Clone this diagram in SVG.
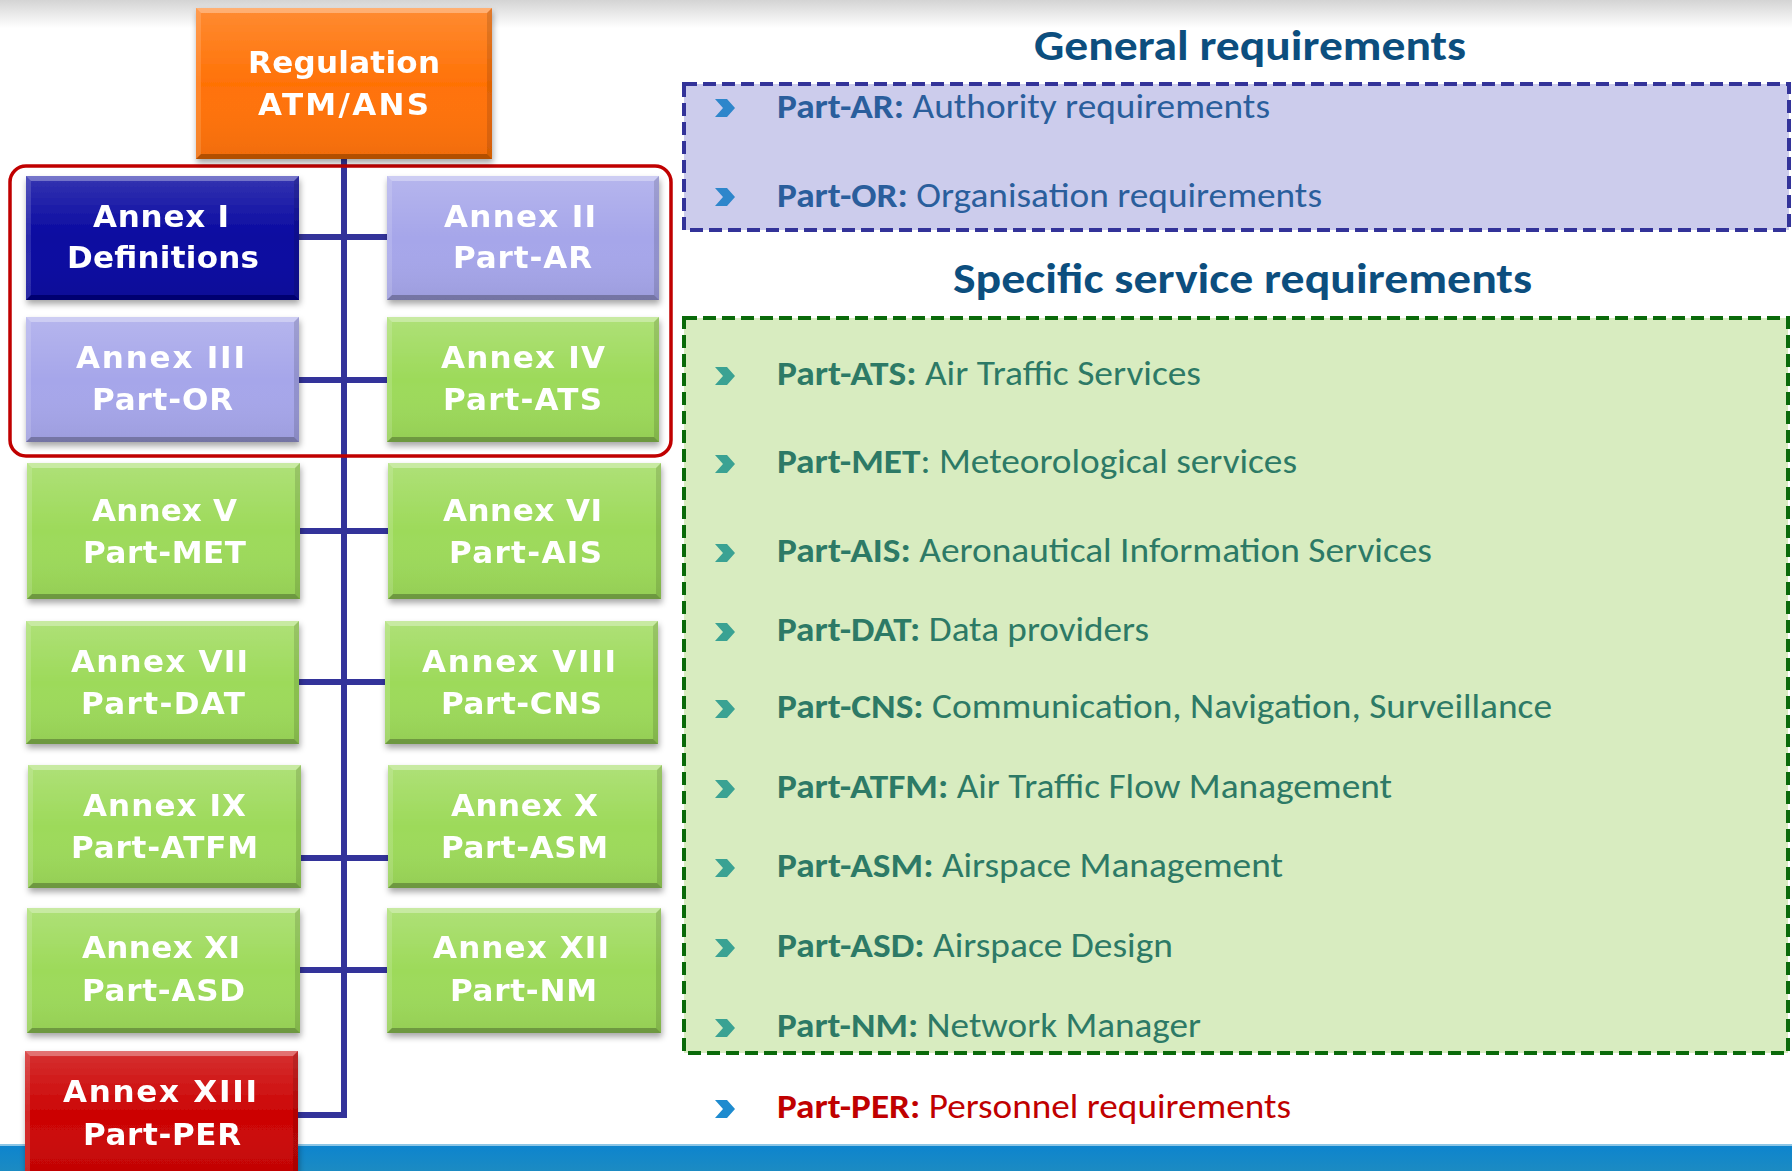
<svg xmlns="http://www.w3.org/2000/svg" width="1792" height="1171" viewBox="0 0 1792 1171">
  <defs>
    <linearGradient id="topHaze" x1="0" y1="0" x2="0" y2="1">
      <stop offset="0" stop-color="#d4d4d4"/>
      <stop offset="1" stop-color="#ffffff"/>
    </linearGradient>
    <linearGradient id="barFill" x1="0" y1="0" x2="0" y2="1">
      <stop offset="0" stop-color="#0c84cf"/>
      <stop offset="1" stop-color="#1c8bc2"/>
    </linearGradient>
    <linearGradient id="faceSheen" x1="0" y1="0" x2="0" y2="1">
      <stop offset="0" stop-color="#ffffff" stop-opacity="0.18"/>
      <stop offset="0.5" stop-color="#ffffff" stop-opacity="0"/>
      <stop offset="1" stop-color="#000000" stop-opacity="0.06"/>
    </linearGradient>
    <filter id="shadow" x="-10%" y="-10%" width="125%" height="130%">
      <feDropShadow dx="1" dy="4" stdDeviation="3" flood-color="#000000" flood-opacity="0.35"/>
    </filter>
  </defs>
  <style>
    .face-orange { fill: #ff7206; }
    .face-navy { fill: #0808a0; }
    .face-lilac { fill: #a6a6ea; }
    .face-green { fill: #9dda5a; }
    .face-red { fill: #cc0404; }
    .sheen { fill: url(#faceSheen); }
    .bv-top { fill: #ffffff; fill-opacity: 0.32; }
    .bv-left { fill: #ffffff; fill-opacity: 0.14; }
    .bv-right { fill: #000000; fill-opacity: 0.12; }
    .bv-bottom { fill: #000000; fill-opacity: 0.26; }
    .box-label { font-family: "DejaVu Sans", Verdana, sans-serif; font-weight: bold; font-size: 31px; fill: #ffffff; }
    .wire { stroke: #33339a; stroke-width: 6; fill: none; }
    .frame { fill: none; stroke: #c00000; stroke-width: 3.5; }
    .zone-general { fill: #ccccec; stroke: #333399; stroke-width: 4; stroke-dasharray: 13 6; }
    .zone-specific { fill: #d8ecc0; stroke: #0a6a0a; stroke-width: 4; stroke-dasharray: 13 6; }
    .heading { font-family: Carlito, Calibri, Lato, "Open Sans", sans-serif; font-weight: bold; font-size: 43px; fill: #0c4e7e; }
    .item { font-family: Carlito, Calibri, Lato, "Open Sans", sans-serif; font-size: 34px; }
    .b { font-weight: bold; }
    .t-general { fill: #2a5e9c; }
    .t-specific { fill: #2d7a66; }
    .t-per { fill: #c00000; }
    .chev-general { fill: #2e86cb; }
    .chev-specific { fill: #3aa293; }
    .chev-per { fill: #1e8bcf; }
  </style>

  <!-- page background, top haze and bottom band -->
  <rect x="0" y="0" width="1792" height="1171" fill="#ffffff"/>
  <rect x="0" y="0" width="1792" height="28" fill="url(#topHaze)"/>
  <rect x="0" y="1144" width="1792" height="27" fill="url(#barFill)"/>
  <rect x="0" y="1144" width="1792" height="2" fill="#8cc6e6"/>

  <!-- tree connectors -->
  <g id="connectors">
    <line class="wire" x1="344" y1="158" x2="344" y2="1118"/>
    <line class="wire" x1="298" y1="237" x2="389" y2="237"/>
    <line class="wire" x1="298" y1="380" x2="389" y2="380"/>
    <line class="wire" x1="298" y1="531" x2="390" y2="531"/>
    <line class="wire" x1="298" y1="682" x2="387" y2="682"/>
    <line class="wire" x1="298" y1="858" x2="390" y2="858"/>
    <line class="wire" x1="298" y1="970" x2="389" y2="970"/>
    <polyline class="wire" points="296,1115 344,1115 344,1110"/>
  </g>

  <!-- frame around annexes I to IV -->
  <rect id="core-frame" class="frame" x="10" y="166" width="661" height="290" rx="16" ry="16"/>

  <!-- regulation root -->
  <g id="regulation" filter="url(#shadow)">
    <rect class="face-orange" x="196" y="8" width="296" height="151"/>
    <rect class="sheen" x="196" y="8" width="296" height="151"/>
    <polygon class="bv-top" points="196,8 492,8 487,13 201,13"/>
    <polygon class="bv-left" points="196,8 201,13 201,154 196,159"/>
    <polygon class="bv-right" points="492,8 492,159 487,154 487,13"/>
    <polygon class="bv-bottom" points="196,159 492,159 487,154 201,154"/>
    <text class="box-label" x="248" y="73" textLength="192" lengthAdjust="spacing">Regulation</text>
    <text class="box-label" x="258" y="115" textLength="171" lengthAdjust="spacing">ATM/ANS</text>
  </g>

  <g id="annex-1" filter="url(#shadow)">
    <rect class="face-navy" x="26" y="176" width="273" height="124"/>
    <rect class="sheen" x="26" y="176" width="273" height="124"/>
    <polygon class="bv-top" points="26,176 299,176 294,181 31,181"/>
    <polygon class="bv-left" points="26,176 31,181 31,295 26,300"/>
    <polygon class="bv-right" points="299,176 299,300 294,295 294,181"/>
    <polygon class="bv-bottom" points="26,300 299,300 294,295 31,295"/>
    <text class="box-label" x="93" y="227" textLength="136" lengthAdjust="spacing">Annex I</text>
    <text class="box-label" x="67" y="268" textLength="192" lengthAdjust="spacing">Definitions</text>
  </g>

  <g id="annex-2" filter="url(#shadow)">
    <rect class="face-lilac" x="387" y="176" width="272" height="124"/>
    <rect class="sheen" x="387" y="176" width="272" height="124"/>
    <polygon class="bv-top" points="387,176 659,176 654,181 392,181"/>
    <polygon class="bv-left" points="387,176 392,181 392,295 387,300"/>
    <polygon class="bv-right" points="659,176 659,300 654,295 654,181"/>
    <polygon class="bv-bottom" points="387,300 659,300 654,295 392,295"/>
    <text class="box-label" x="444" y="227" textLength="152" lengthAdjust="spacing">Annex II</text>
    <text class="box-label" x="453" y="268" textLength="139" lengthAdjust="spacing">Part-AR</text>
  </g>

  <g id="annex-3" filter="url(#shadow)">
    <rect class="face-lilac" x="26" y="317" width="273" height="125"/>
    <rect class="sheen" x="26" y="317" width="273" height="125"/>
    <polygon class="bv-top" points="26,317 299,317 294,322 31,322"/>
    <polygon class="bv-left" points="26,317 31,322 31,437 26,442"/>
    <polygon class="bv-right" points="299,317 299,442 294,437 294,322"/>
    <polygon class="bv-bottom" points="26,442 299,442 294,437 31,437"/>
    <text class="box-label" x="76" y="368" textLength="169" lengthAdjust="spacing">Annex III</text>
    <text class="box-label" x="92" y="410" textLength="141" lengthAdjust="spacing">Part-OR</text>
  </g>

  <g id="annex-4" filter="url(#shadow)">
    <rect class="face-green" x="387" y="317" width="272" height="125"/>
    <rect class="sheen" x="387" y="317" width="272" height="125"/>
    <polygon class="bv-top" points="387,317 659,317 654,322 392,322"/>
    <polygon class="bv-left" points="387,317 392,322 392,437 387,442"/>
    <polygon class="bv-right" points="659,317 659,442 654,437 654,322"/>
    <polygon class="bv-bottom" points="387,442 659,442 654,437 392,437"/>
    <text class="box-label" x="441" y="368" textLength="164" lengthAdjust="spacing">Annex IV</text>
    <text class="box-label" x="443" y="410" textLength="159" lengthAdjust="spacing">Part-ATS</text>
  </g>

  <g id="annex-5" filter="url(#shadow)">
    <rect class="face-green" x="27" y="463" width="273" height="136"/>
    <rect class="sheen" x="27" y="463" width="273" height="136"/>
    <polygon class="bv-top" points="27,463 300,463 295,468 32,468"/>
    <polygon class="bv-left" points="27,463 32,468 32,594 27,599"/>
    <polygon class="bv-right" points="300,463 300,599 295,594 295,468"/>
    <polygon class="bv-bottom" points="27,599 300,599 295,594 32,594"/>
    <text class="box-label" x="92" y="521" textLength="145" lengthAdjust="spacing">Annex V</text>
    <text class="box-label" x="83" y="563" textLength="163" lengthAdjust="spacing">Part-MET</text>
  </g>

  <g id="annex-6" filter="url(#shadow)">
    <rect class="face-green" x="388" y="463" width="273" height="136"/>
    <rect class="sheen" x="388" y="463" width="273" height="136"/>
    <polygon class="bv-top" points="388,463 661,463 656,468 393,468"/>
    <polygon class="bv-left" points="388,463 393,468 393,594 388,599"/>
    <polygon class="bv-right" points="661,463 661,599 656,594 656,468"/>
    <polygon class="bv-bottom" points="388,599 661,599 656,594 393,594"/>
    <text class="box-label" x="443" y="521" textLength="159" lengthAdjust="spacing">Annex VI</text>
    <text class="box-label" x="449" y="563" textLength="153" lengthAdjust="spacing">Part-AIS</text>
  </g>

  <g id="annex-7" filter="url(#shadow)">
    <rect class="face-green" x="26" y="621" width="273" height="123"/>
    <rect class="sheen" x="26" y="621" width="273" height="123"/>
    <polygon class="bv-top" points="26,621 299,621 294,626 31,626"/>
    <polygon class="bv-left" points="26,621 31,626 31,739 26,744"/>
    <polygon class="bv-right" points="299,621 299,744 294,739 294,626"/>
    <polygon class="bv-bottom" points="26,744 299,744 294,739 31,739"/>
    <text class="box-label" x="71" y="672" textLength="177" lengthAdjust="spacing">Annex VII</text>
    <text class="box-label" x="81" y="714" textLength="164" lengthAdjust="spacing">Part-DAT</text>
  </g>

  <g id="annex-8" filter="url(#shadow)">
    <rect class="face-green" x="385" y="621" width="273" height="123"/>
    <rect class="sheen" x="385" y="621" width="273" height="123"/>
    <polygon class="bv-top" points="385,621 658,621 653,626 390,626"/>
    <polygon class="bv-left" points="385,621 390,626 390,739 385,744"/>
    <polygon class="bv-right" points="658,621 658,744 653,739 653,626"/>
    <polygon class="bv-bottom" points="385,744 658,744 653,739 390,739"/>
    <text class="box-label" x="422" y="672" textLength="194" lengthAdjust="spacing">Annex VIII</text>
    <text class="box-label" x="441" y="714" textLength="161" lengthAdjust="spacing">Part-CNS</text>
  </g>

  <g id="annex-9" filter="url(#shadow)">
    <rect class="face-green" x="28" y="765" width="273" height="123"/>
    <rect class="sheen" x="28" y="765" width="273" height="123"/>
    <polygon class="bv-top" points="28,765 301,765 296,770 33,770"/>
    <polygon class="bv-left" points="28,765 33,770 33,883 28,888"/>
    <polygon class="bv-right" points="301,765 301,888 296,883 296,770"/>
    <polygon class="bv-bottom" points="28,888 301,888 296,883 33,883"/>
    <text class="box-label" x="83" y="816" textLength="163" lengthAdjust="spacing">Annex IX</text>
    <text class="box-label" x="71" y="858" textLength="187" lengthAdjust="spacing">Part-ATFM</text>
  </g>

  <g id="annex-10" filter="url(#shadow)">
    <rect class="face-green" x="388" y="765" width="274" height="123"/>
    <rect class="sheen" x="388" y="765" width="274" height="123"/>
    <polygon class="bv-top" points="388,765 662,765 657,770 393,770"/>
    <polygon class="bv-left" points="388,765 393,770 393,883 388,888"/>
    <polygon class="bv-right" points="662,765 662,888 657,883 657,770"/>
    <polygon class="bv-bottom" points="388,888 662,888 657,883 393,883"/>
    <text class="box-label" x="451" y="816" textLength="147" lengthAdjust="spacing">Annex X</text>
    <text class="box-label" x="441" y="858" textLength="167" lengthAdjust="spacing">Part-ASM</text>
  </g>

  <g id="annex-11" filter="url(#shadow)">
    <rect class="face-green" x="27" y="908" width="273" height="125"/>
    <rect class="sheen" x="27" y="908" width="273" height="125"/>
    <polygon class="bv-top" points="27,908 300,908 295,913 32,913"/>
    <polygon class="bv-left" points="27,908 32,913 32,1028 27,1033"/>
    <polygon class="bv-right" points="300,908 300,1033 295,1028 295,913"/>
    <polygon class="bv-bottom" points="27,1033 300,1033 295,1028 32,1028"/>
    <text class="box-label" x="82" y="958" textLength="158" lengthAdjust="spacing">Annex XI</text>
    <text class="box-label" x="82" y="1001" textLength="163" lengthAdjust="spacing">Part-ASD</text>
  </g>

  <g id="annex-12" filter="url(#shadow)">
    <rect class="face-green" x="387" y="908" width="274" height="125"/>
    <rect class="sheen" x="387" y="908" width="274" height="125"/>
    <polygon class="bv-top" points="387,908 661,908 656,913 392,913"/>
    <polygon class="bv-left" points="387,908 392,913 392,1028 387,1033"/>
    <polygon class="bv-right" points="661,908 661,1033 656,1028 656,913"/>
    <polygon class="bv-bottom" points="387,1033 661,1033 656,1028 392,1028"/>
    <text class="box-label" x="433" y="958" textLength="176" lengthAdjust="spacing">Annex XII</text>
    <text class="box-label" x="450" y="1001" textLength="147" lengthAdjust="spacing">Part-NM</text>
  </g>

  <g id="annex-13" filter="url(#shadow)">
    <rect class="face-red" x="25" y="1051" width="273" height="125"/>
    <rect class="sheen" x="25" y="1051" width="273" height="125"/>
    <polygon class="bv-top" points="25,1051 298,1051 293,1056 30,1056"/>
    <polygon class="bv-left" points="25,1051 30,1056 30,1176 25,1176"/>
    <polygon class="bv-right" points="298,1051 298,1176 293,1176 293,1056"/>
    <text class="box-label" x="63" y="1102" textLength="194" lengthAdjust="spacing">Annex XIII</text>
    <text class="box-label" x="83" y="1145" textLength="158" lengthAdjust="spacing">Part-PER</text>
  </g>

  <!-- general requirements panel -->
  <g id="general">
    <text class="heading" x="1034" y="60" textLength="432" lengthAdjust="spacingAndGlyphs">General requirements</text>
    <rect class="zone-general" x="684" y="84" width="1105" height="146"/>
    <g id="item-ar">
      <polygon class="chev-general" points="715,99 727,99 735,108 727,117 715,117 723,108"/>
      <text class="item t-general" x="777" y="118" textLength="493" lengthAdjust="spacingAndGlyphs"><tspan class="b">Part-AR:</tspan> Authority requirements</text>
    </g>
    <g id="item-or">
      <polygon class="chev-general" points="715,188 727,188 735,197 727,206 715,206 723,197"/>
      <text class="item t-general" x="777" y="207" textLength="545" lengthAdjust="spacingAndGlyphs"><tspan class="b">Part-OR:</tspan> Organisation requirements</text>
    </g>
  </g>

  <!-- specific service requirements panel -->
  <g id="specific">
    <text class="heading" x="953" y="293" textLength="579" lengthAdjust="spacingAndGlyphs">Specific service requirements</text>
    <rect class="zone-specific" x="684" y="318" width="1104" height="735"/>
    <g id="item-ats">
      <polygon class="chev-specific" points="715,367 727,367 735,376 727,385 715,385 723,376"/>
      <text class="item t-specific" x="777" y="385" textLength="424" lengthAdjust="spacingAndGlyphs"><tspan class="b">Part-ATS:</tspan> Air Traffic Services</text>
    </g>
    <g id="item-met">
      <polygon class="chev-specific" points="715,455 727,455 735,464 727,473 715,473 723,464"/>
      <text class="item t-specific" x="777" y="473" textLength="520" lengthAdjust="spacingAndGlyphs"><tspan class="b">Part-MET</tspan>: Meteorological services</text>
    </g>
    <g id="item-ais">
      <polygon class="chev-specific" points="715,544 727,544 735,553 727,562 715,562 723,553"/>
      <text class="item t-specific" x="777" y="562" textLength="655" lengthAdjust="spacingAndGlyphs"><tspan class="b">Part-AIS:</tspan> Aeronautical Information Services</text>
    </g>
    <g id="item-dat">
      <polygon class="chev-specific" points="715,623 727,623 735,632 727,641 715,641 723,632"/>
      <text class="item t-specific" x="777" y="641" textLength="372" lengthAdjust="spacingAndGlyphs"><tspan class="b">Part-DAT:</tspan> Data providers</text>
    </g>
    <g id="item-cns">
      <polygon class="chev-specific" points="715,700 727,700 735,709 727,718 715,718 723,709"/>
      <text class="item t-specific" x="777" y="718" textLength="775" lengthAdjust="spacingAndGlyphs"><tspan class="b">Part-CNS:</tspan> Communication, Navigation, Surveillance</text>
    </g>
    <g id="item-atfm">
      <polygon class="chev-specific" points="715,780 727,780 735,789 727,798 715,798 723,789"/>
      <text class="item t-specific" x="777" y="798" textLength="615" lengthAdjust="spacingAndGlyphs"><tspan class="b">Part-ATFM:</tspan> Air Traffic Flow Management</text>
    </g>
    <g id="item-asm">
      <polygon class="chev-specific" points="715,859 727,859 735,868 727,877 715,877 723,868"/>
      <text class="item t-specific" x="777" y="877" textLength="506" lengthAdjust="spacingAndGlyphs"><tspan class="b">Part-ASM:</tspan> Airspace Management</text>
    </g>
    <g id="item-asd">
      <polygon class="chev-specific" points="715,939 727,939 735,948 727,957 715,957 723,948"/>
      <text class="item t-specific" x="777" y="957" textLength="396" lengthAdjust="spacingAndGlyphs"><tspan class="b">Part-ASD:</tspan> Airspace Design</text>
    </g>
    <g id="item-nm">
      <polygon class="chev-specific" points="715,1019 727,1019 735,1028 727,1037 715,1037 723,1028"/>
      <text class="item t-specific" x="777" y="1037" textLength="424" lengthAdjust="spacingAndGlyphs"><tspan class="b">Part-NM:</tspan> Network Manager</text>
    </g>
  </g>

  <!-- personnel requirements -->
  <g id="item-per">
    <polygon class="chev-per" points="715,1100 727,1100 735,1109 727,1118 715,1118 723,1109"/>
    <text class="item t-per" x="777" y="1118" textLength="514" lengthAdjust="spacingAndGlyphs"><tspan class="b">Part-PER:</tspan> Personnel requirements</text>
  </g>
</svg>
